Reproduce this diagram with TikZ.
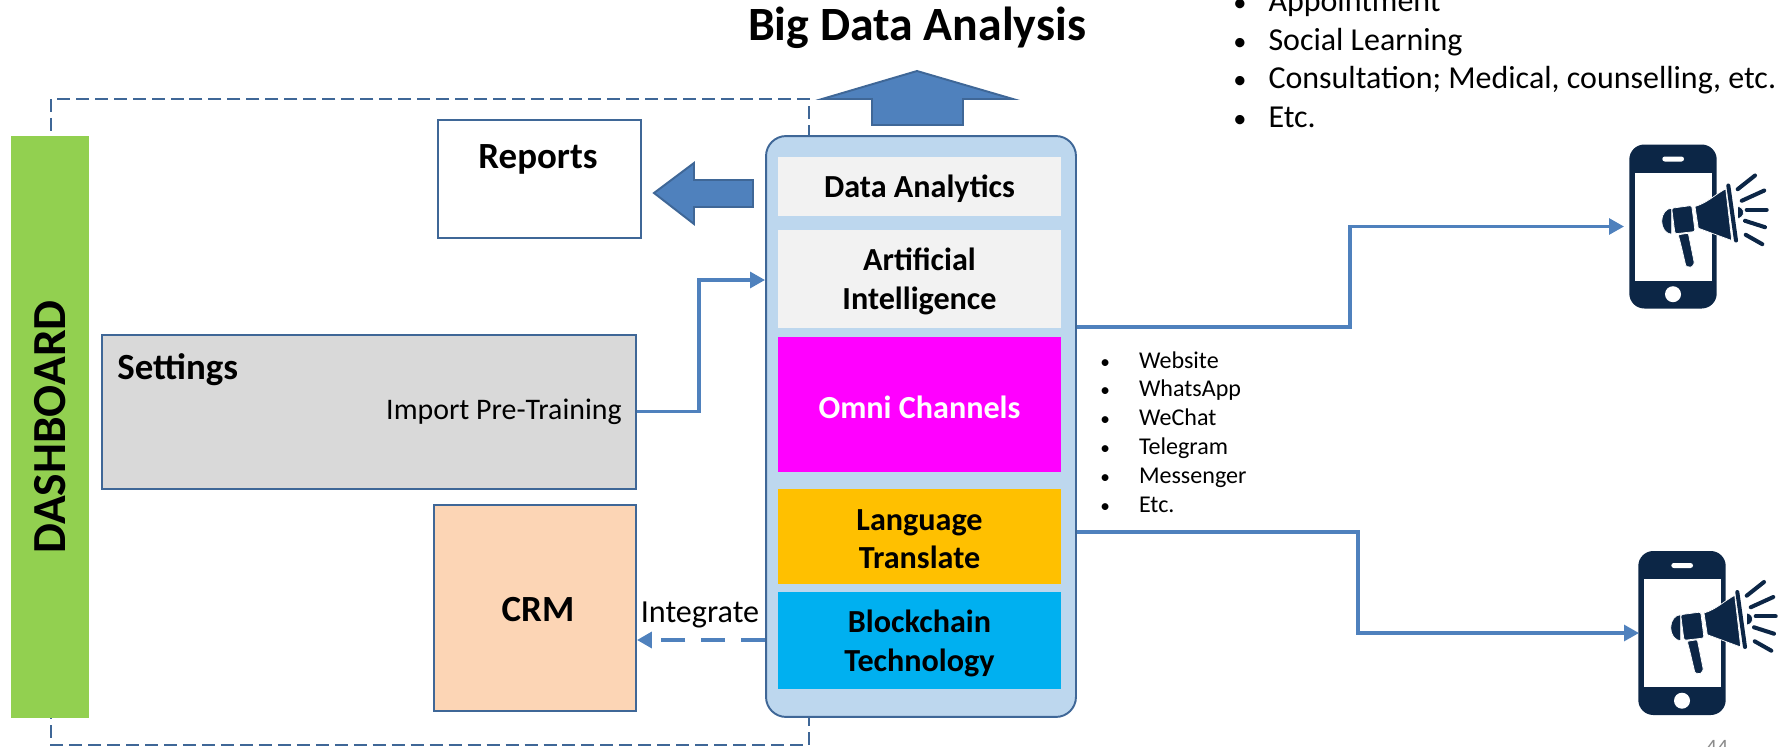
\documentclass[tikz,border=0pt]{standalone}
\usepackage{fontspec}
\setmainfont{Carlito}
\usetikzlibrary{arrows.meta}
\definecolor{edgeblue}{HTML}{3F6797}
\definecolor{flowblue}{HTML}{4F81BD}
\definecolor{phonenavy}{HTML}{0C2646}
\tikzset{
    box/.style={draw=edgeblue, line width=1.1pt, inner sep=0pt},
    layer/.style={inner sep=0pt, minimum width=5.66cm},
    layertext/.style={inner sep=0pt, yshift=-1.5pt, align=center, font=\fontsize{18.3}{22}\selectfont\bfseries},
    caption/.style={inner sep=0pt, font=\fontsize{21}{24}\selectfont\bfseries},
    plain/.style={inner sep=0pt, font=\fontsize{17}{22}\selectfont},
    wire/.style={draw=flowblue, line width=1.9pt, -{Triangle[length=8.5pt,width=9pt]}},
    bigarrow/.style={draw=edgeblue, fill=flowblue, line width=1.1pt},
    phone/.pic={
        \fill[phonenavy, rounded corners=.3cm] (-43.7,-82) rectangle (43.7,82);
        \fill[white] (-38.3,-54) rectangle (38.7,54);
        \fill[white, rounded corners=.05cm] (-10.7,-70) rectangle (11,-65);
        \fill[white] (0,67.7) circle (.16cm);
        \draw[draw=white, fill=phonenavy, line width=.4pt] (64.5,-20) arc (90:-90:.12cm) -- cycle;
        \draw[draw=white, fill=phonenavy, line width=.4pt, rounded corners=.02cm] (5.3,8.3) -- (15.3,6.7) -- (21.3,36.7) -- (18.7,40.7) -- (13,40) -- (8.7,21.7) -- cycle;
        \draw[draw=white, fill=phonenavy, line width=.4pt] (-1.3,-18.3) arc (90:270:.2cm and .26cm) -- cycle;
        \draw[draw=white, fill=phonenavy, line width=.4pt, rounded corners=.04cm] (-1.3,-18.3) -- (18.7,-21) -- (22,5) -- (2,7.3) -- cycle;
        \draw[draw=white, fill=phonenavy, line width=.4pt] (22,-20) .. controls (35,-24) and (42,-32) .. (52.7,-37.7) -- (58.7,14) -- (25.3,1.7) -- cycle;
        \draw[white, line width=3pt, line cap=round] (55.3,-41) -- (63,14);
        \draw[phonenavy, line width=2.3pt, line cap=round] (55.3,-41) -- (63,14);
        \draw[phonenavy, line width=2.3pt, line cap=round] (64.7,-37.3) -- (82,-51);
        \draw[phonenavy, line width=2.3pt, line cap=round] (68.7,-25.7) -- (91.3,-36);
        \draw[phonenavy, line width=2.3pt, line cap=round] (73.7,-16.7) -- (93.7,-16.7);
        \draw[phonenavy, line width=2.3pt, line cap=round] (72,-5.7) -- (92,.7);
        \draw[phonenavy, line width=2.3pt, line cap=round] (72.7,8.3) -- (89.3,17.7);
    }
}

\begin{document}
\begin{tikzpicture}[x=.02cm, y=-.02cm]
    \useasboundingbox (0,0) rectangle (1779,747);

    \draw[draw=edgeblue, line width=1.2pt, dash pattern=on 7.4pt off 3.4pt] (51,99) rectangle (809,745);

    \node[fill={rgb,255:red,146;green,208;blue,80}, minimum width=1.56cm, minimum height=11.64cm, inner sep=0pt] (dashboard) at (50,427) {};
    \node[rotate=90, font=\fontsize{27}{30}\selectfont\bfseries, inner sep=0pt] (dashboardText) at (50,427) {DASHBOARD};

    \node[box, fill=white, minimum width=4.06cm, minimum height=2.36cm] (reports) at (539.5,179) {};
    \node[caption] (reportsText) at (538,159) {Reports};
    \node[box, fill={rgb,255:red,217;green,217;blue,217}, minimum width=10.68cm, minimum height=3.08cm] (settings) at (369,412) {};
    \node[caption, anchor=west] (settingsText) at (117,370) {Settings};
    \node[plain, anchor=east] (importText) at (622,412) {Import Pre-Training};
    \node[box, fill={rgb,255:red,252;green,213;blue,181}, minimum width=4.04cm, minimum height=4.12cm] (crm) at (535,608) {};
    \node[caption] (crmText) at (538,610) {CRM};
    \node[plain, font=\fontsize{18.3}{22}\selectfont] (integrateText) at (700,615) {Integrate};

    \node[box, fill={rgb,255:red,189;green,215;blue,238}, rounded corners=.4cm, minimum width=6.2cm, minimum height=11.62cm] (case) at (921,426.5) {};
    \node[layer, fill={rgb,255:red,242;green,242;blue,242}, minimum height=1.18cm, label={[layertext]center:Data Analytics}] (analytics) at (919.5,186.5) {};
    \node[layer, fill={rgb,255:red,242;green,242;blue,242}, minimum height=1.96cm, label={[layertext]center:{Artificial\\Intelligence}}] (ai) at (919.5,279) {};
    \node[layer, fill={rgb,255:red,255;green,0;blue,255}, minimum height=2.7cm, label={[layertext, text=white]center:Omni Channels}] (omni) at (919.5,404.5) {};
    \node[layer, fill={rgb,255:red,255;green,192;blue,0}, minimum height=1.9cm, label={[layertext]center:{Language\\Translate}}] (language) at (919.5,536.5) {};
    \node[layer, fill={rgb,255:red,0;green,176;blue,240}, minimum height=1.94cm, label={[layertext]center:{Blockchain\\Technology}}] (chain) at (919.5,640.5) {};

    \node[font=\fontsize{27.2}{30}\selectfont\bfseries, inner sep=0pt] (title) at (917,27.5) {Big Data Analysis};
    \draw[bigarrow] (917,71) -- (1013,99) -- (963,99) -- (963,125) -- (872,125) -- (872,99) -- (822,99) -- cycle;
    \draw[bigarrow] (654,193) -- (694,163) -- (694,180) -- (753,180) -- (753,207) -- (694,207) -- (694,224) -- cycle;

    \draw[wire] (settings.east |- 0,411.5) -- (699,411.5) -- (699,280) -- (case.west |- 0,280);
    \draw[wire, line width=2.3pt, dash pattern=on 13.7pt off 9pt] (case.west |- 0,640) -- (crm.east |- 0,640);

    \pic (phoneA) at (1673,226.5) {phone};
    \pic (phoneB) at (1682,633) {phone};
    \coordinate (phoneAin) at (1624,226.5);
    \coordinate (phoneBin) at (1639,633);
    \draw[wire] (case.east |- 0,327) -- (1350,327) -- (1350,226.5) -- (phoneAin);
    \draw[wire] (case.east |- 0,532) -- (1358,532) -- (1358,633) -- (phoneBin);

    \node[anchor=north west, align=left, inner sep=0pt, font=\fontsize{13.7}{16.4}\selectfont] (channels) at (1100,351) {\makebox[22pt][l]{\fontsize{11}{11}\selectfont•}Website\\\makebox[22pt][l]{\fontsize{11}{11}\selectfont•}WhatsApp\\\makebox[22pt][l]{\fontsize{11}{11}\selectfont•}WeChat\\\makebox[22pt][l]{\fontsize{11}{11}\selectfont•}Telegram\\\makebox[22pt][l]{\fontsize{11}{11}\selectfont•}Messenger\\\makebox[22pt][l]{\fontsize{11}{11}\selectfont•}Etc.};
    \node[anchor=north west, align=left, inner sep=0pt, font=\fontsize{18.2}{22}\selectfont] (services) at (1233,-11) {\makebox[20pt][l]{\fontsize{15}{15}\selectfont•}Appointment\\\makebox[20pt][l]{\fontsize{15}{15}\selectfont•}Social Learning\\\makebox[20pt][l]{\fontsize{15}{15}\selectfont•}Consultation; Medical, counselling, etc.\\\makebox[20pt][l]{\fontsize{15}{15}\selectfont•}Etc.};
    \node[text={rgb,255:red,139;green,139;blue,139}, inner sep=0pt, font=\fontsize{12.5}{15}\selectfont] (pageNumber) at (1717,747) {44};
\end{tikzpicture}
\end{document}
